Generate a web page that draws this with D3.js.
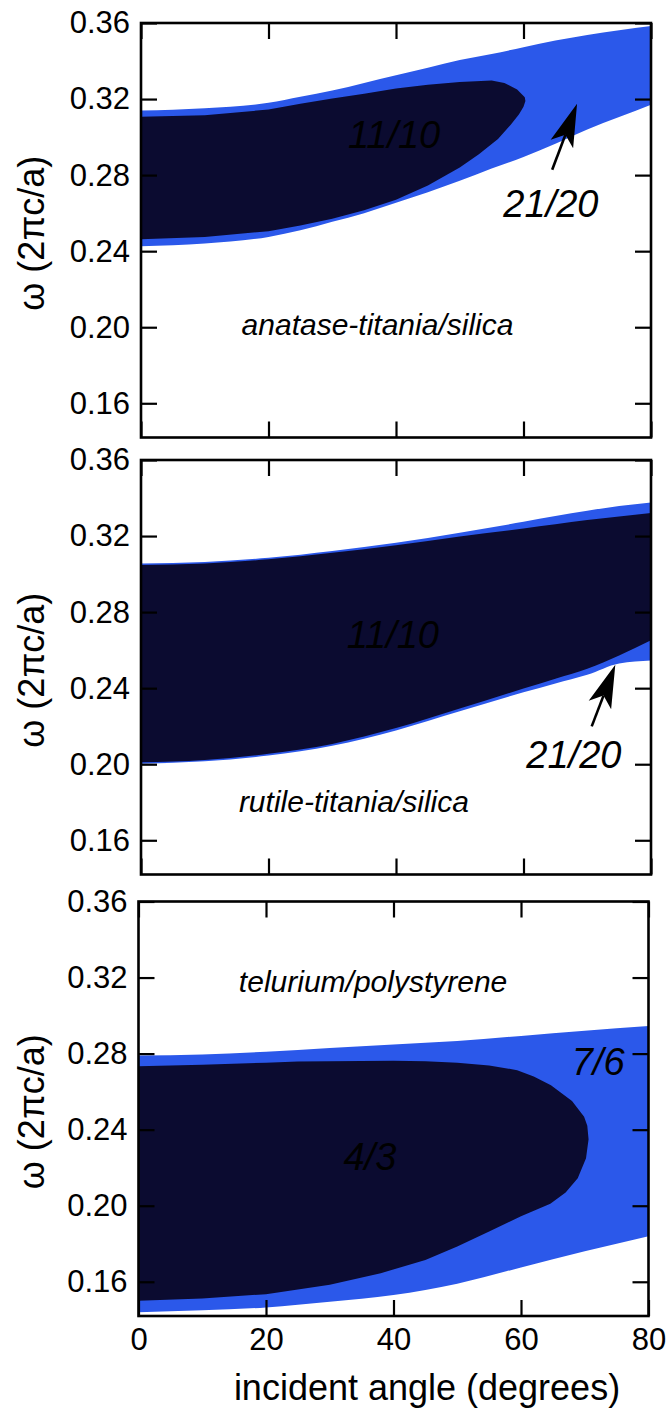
<!DOCTYPE html>
<html>
<head>
<meta charset="utf-8">
<script src="https://cdn.jsdelivr.net/npm/d3@7"></script>
<style>
  body { margin: 0; background: #fff; }
  svg { display: block; }
</style>
</head>
<body>
<script>
// ---- data: photonic band-gap maps, frequency ω (2πc/a) vs incident angle (deg) ----

// anatase-titania / silica
const anataseBandAngles = [0, 10, 20, 25, 30, 35, 40, 45, 50, 55, 60, 65, 70, 75, 80];
const anataseBandUpper  = [0.3140, 0.3152, 0.3180, 0.3212, 0.3245, 0.3285, 0.3325, 0.3365, 0.3405, 0.3437, 0.3472, 0.3508, 0.3537, 0.3562, 0.3584];
const anataseBandLower  = [0.2426, 0.2440, 0.2475, 0.2510, 0.2555, 0.2600, 0.2655, 0.2710, 0.2770, 0.2835, 0.2895, 0.2965, 0.3040, 0.3105, 0.3170];
// closed outline of the 11/10 gap (along the top edge, then back along the bottom)
const anataseGapAngles  = [0, 10, 20, 25, 30, 35, 40, 45, 50, 55, 57, 59, 60.2, 60.3, 60, 59.3, 58, 56, 53, 50, 45, 40, 35, 30, 25, 20, 10, 0];
const anataseGapFreqs   = [0.3107, 0.3115, 0.3145, 0.3175, 0.3203, 0.3228, 0.3255, 0.3275, 0.3290, 0.3297, 0.3285, 0.3250, 0.3210, 0.3190, 0.3160, 0.3120, 0.3065, 0.2990, 0.2910, 0.2840, 0.2745, 0.2670, 0.2615, 0.2570, 0.2535, 0.2505, 0.2475, 0.2463];

// rutile-titania / silica
const rutileAngles      = [0, 10, 20, 30, 40, 50, 60, 65, 70, 75, 80];
const rutileBandUpper   = [0.3056, 0.3064, 0.3086, 0.3122, 0.3165, 0.3218, 0.3275, 0.3305, 0.3333, 0.3358, 0.3377];
const rutileBandLower   = [0.2003, 0.2015, 0.2046, 0.2097, 0.2178, 0.2278, 0.2378, 0.2425, 0.2470, 0.2530, 0.2545];
const rutileGapUpper    = [0.3048, 0.3056, 0.3078, 0.3112, 0.3152, 0.3198, 0.3240, 0.3262, 0.3284, 0.3303, 0.3321];
const rutileGapLower    = [0.2010, 0.2022, 0.2055, 0.2107, 0.2190, 0.2293, 0.2398, 0.2450, 0.2502, 0.2572, 0.2652];

// tellurium / polystyrene
const telluriumBandAngles = [0, 10, 20, 30, 40, 50, 60, 70, 80];
const telluriumBandUpper  = [0.2790, 0.2795, 0.2810, 0.2830, 0.2848, 0.2866, 0.2893, 0.2920, 0.2945];
const telluriumBandLower  = [0.1440, 0.1450, 0.1465, 0.1495, 0.1530, 0.1590, 0.1675, 0.1760, 0.1840];
const telluriumGapAngles  = [0, 10, 20, 25, 30, 40, 45, 50, 55, 59.4, 62, 64.7, 68, 69.9, 70.4, 70.6, 70.2, 68.9, 67, 64.6, 60, 55, 50, 45, 38, 30, 20, 10, 0];
const telluriumGapFreqs   = [0.2733, 0.2742, 0.2752, 0.2758, 0.2760, 0.2762, 0.2760, 0.2752, 0.2738, 0.2713, 0.2680, 0.2634, 0.2551, 0.2468, 0.2420, 0.2350, 0.2250, 0.2145, 0.2070, 0.2010, 0.1945, 0.1865, 0.1785, 0.1715, 0.1645, 0.1585, 0.1535, 0.1512, 0.1500];

// axes
const angleDomain = [0, 80];
const freqDomain  = [0.142, 0.36];
const xTickValues = [0, 20, 40, 60, 80];
const yTickValues = [0.16, 0.20, 0.24, 0.28, 0.32, 0.36];
const xTitle = "incident angle (degrees)";
const yTitle = "ω (2πc/a)";

// panel annotations
const materialNames   = ["anatase-titania/silica", "rutile-titania/silica", "telurium/polystyrene"];
const materialAt      = [[37.1, 0.1961], [33.4, 0.1751], [36.8, 0.3122]];
const gapLabels       = ["11/10", "11/10", "4/3"];
const gapLabelAt      = [[39.7, 0.2943], [39.5, 0.2612], [36.3, 0.2187]];
const bandLabels      = ["21/20", "21/20", "7/6"];
const bandLabelAt     = [[64.3, 0.2581], [67.9, 0.1982], [72.1, 0.2686]];
const arrowFrom       = [[64.5, 0.2828], [70.7, 0.2199], null];
const arrowTo         = [[68.4, 0.3175], [74.4, 0.2523], null];

// ---- layout ----
const W = 669, H = 1410;
const panelLeft = [141, 141, 138.5];
const panelTop  = [23, 460, 901.5];
const plotW = 510, plotH = 414.5;
const lightBlue = "#2b58ea";
const navy = "#0b0b30";
const font = "'Liberation Sans', Arial, Helvetica, sans-serif";

const zip3 = (a, b, c) => a.map((v, i) => [v, b[i], c[i]]);
const zip2 = (a, b) => a.map((v, i) => [v, b[i]]);

const panels = [
  {
    band: zip3(anataseBandAngles, anataseBandUpper, anataseBandLower),
    gapOutline: zip2(anataseGapAngles, anataseGapFreqs)
  },
  {
    band: zip3(rutileAngles, rutileBandUpper, rutileBandLower),
    gapArea: zip3(rutileAngles, rutileGapUpper, rutileGapLower)
  },
  {
    band: zip3(telluriumBandAngles, telluriumBandUpper, telluriumBandLower),
    gapOutline: zip2(telluriumGapAngles, telluriumGapFreqs)
  }
];

const svg = d3.select("body").append("svg")
  .attr("width", W).attr("height", H)
  .attr("viewBox", `0 0 ${W} ${H}`);

const defs = svg.append("defs");

function drawArrow(g, x0, y0, x1, y1) {
  const dx = x1 - x0, dy = y1 - y0, len = Math.hypot(dx, dy);
  const ux = dx / len, uy = dy / len, px = -uy, py = ux;
  const headLen = 43, headHalf = 12, notch = 33;
  g.append("line")
    .attr("x1", x0).attr("y1", y0)
    .attr("x2", x1 - ux * notch).attr("y2", y1 - uy * notch)
    .attr("stroke", "#000").attr("stroke-width", 2.6);
  const pts = [
    [x1, y1],
    [x1 - ux * headLen + px * headHalf, y1 - uy * headLen + py * headHalf],
    [x1 - ux * notch, y1 - uy * notch],
    [x1 - ux * headLen - px * headHalf, y1 - uy * headLen - py * headHalf]
  ];
  g.append("path").attr("d", "M" + pts.map(p => p.join(",")).join("L") + "Z").attr("fill", "#000");
}

panels.forEach((p, i) => {
  const x = d3.scaleLinear().domain(angleDomain).range([0, plotW]);
  const y = d3.scaleLinear().domain(freqDomain).range([plotH, 0]);
  const g = svg.append("g").attr("transform", `translate(${panelLeft[i]},${panelTop[i]})`);

  const clipId = "clip" + i;
  defs.append("clipPath").attr("id", clipId)
    .append("rect").attr("width", plotW).attr("height", plotH);
  const plot = g.append("g").attr("clip-path", `url(#${clipId})`);

  const area = d3.area()
    .x(d => x(d[0])).y0(d => y(d[2])).y1(d => y(d[1]))
    .curve(d3.curveMonotoneX);

  // outer (higher-order) gap band
  plot.append("path").datum(p.band).attr("d", area).attr("fill", lightBlue);

  // inner gap
  if (p.gapArea) {
    plot.append("path").datum(p.gapArea).attr("d", area).attr("fill", navy);
  } else {
    const outline = d3.line().x(d => x(d[0])).y(d => y(d[1])).curve(d3.curveLinearClosed);
    plot.append("path").datum(p.gapOutline).attr("d", outline).attr("fill", navy);
  }

  // labels inside the plot
  plot.append("text")
    .attr("x", x(gapLabelAt[i][0])).attr("y", y(gapLabelAt[i][1]))
    .attr("text-anchor", "middle").attr("font-family", font).attr("font-style", "italic")
    .attr("font-size", 38).attr("fill", "#000").text(gapLabels[i]);

  g.append("text")
    .attr("x", x(bandLabelAt[i][0])).attr("y", y(bandLabelAt[i][1]))
    .attr("text-anchor", "middle").attr("font-family", font).attr("font-style", "italic")
    .attr("font-size", 38).attr("fill", "#000").text(bandLabels[i]);

  g.append("text")
    .attr("x", x(materialAt[i][0])).attr("y", y(materialAt[i][1]))
    .attr("text-anchor", "middle").attr("font-family", font).attr("font-style", "italic")
    .attr("font-size", 30).attr("fill", "#000").text(materialNames[i]);

  if (arrowFrom[i]) {
    drawArrow(g, x(arrowFrom[i][0]), y(arrowFrom[i][1]), x(arrowTo[i][0]), y(arrowTo[i][1]));
  }

  // axes with inward ticks on all four sides
  const tick = -16;
  const styleAxis = sel => {
    sel.select(".domain").remove();
    sel.selectAll(".tick line").attr("stroke", "#000").attr("stroke-width", 2.2);
    sel.attr("font-family", font).attr("font-size", 31);
    sel.selectAll(".tick text").attr("fill", "#000");
  };

  g.append("g")
    .call(d3.axisLeft(y).tickValues(yTickValues).tickFormat(d3.format(".2f"))
      .tickSize(tick).tickPadding(11))
    .call(styleAxis);

  g.append("g").attr("transform", `translate(${plotW},0)`)
    .call(d3.axisRight(y).tickValues(yTickValues).tickFormat("").tickSize(tick))
    .call(styleAxis);

  g.append("g")
    .call(d3.axisTop(x).tickValues(xTickValues).tickFormat("").tickSize(tick))
    .call(styleAxis);

  const isLast = i === panels.length - 1;
  g.append("g").attr("transform", `translate(0,${plotH})`)
    .call(d3.axisBottom(x).tickValues(xTickValues)
      .tickFormat(isLast ? d3.format("d") : "")
      .tickSize(tick).tickPadding(12))
    .call(styleAxis);

  // frame
  g.append("rect").attr("width", plotW).attr("height", plotH)
    .attr("fill", "none").attr("stroke", "#000").attr("stroke-width", 2.6);

  // y-axis title
  g.append("text")
    .attr("transform", `translate(${44 - panelLeft[i]},${plotH / 2 + 3}) rotate(-90)`)
    .attr("text-anchor", "middle").attr("font-family", font)
    .attr("font-size", 36).attr("fill", "#000").text(yTitle);
});

// x-axis title under the bottom panel
svg.append("text")
  .attr("x", 427).attr("y", 1400)
  .attr("text-anchor", "middle").attr("font-family", font)
  .attr("font-size", 36).attr("fill", "#000").text(xTitle);
</script>
</body>
</html>
